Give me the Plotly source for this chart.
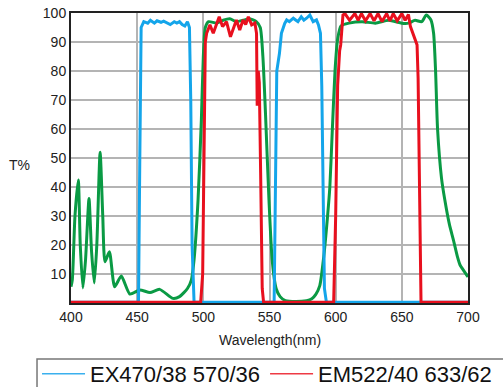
import plotly.graph_objects as go

# ---- data ----
ex_name = "EX470/38 570/36"
ex_wl = [400, 451, 452, 453, 455, 458, 460, 463, 465, 468, 470, 473, 475, 478, 480, 482, 484, 486, 488,
         489.5, 490.5, 491.5, 493, 553.5, 554.5, 555.5, 557.5, 559, 561.5, 563, 565, 568, 570, 571.5,
         574, 576, 578, 580.5, 583, 585.5, 587, 588.5, 589.5, 590.5, 591.5, 593, 700]
ex_t = [0.3, 0.3, 50, 95, 97, 96.5, 97.5, 96.5, 97.3, 96.8, 97.2, 96.3, 96, 97, 96.5, 97, 96, 95.5, 97,
        95, 70, 20, 0.3, 0.3, 40, 80, 86, 93, 96.4, 97.6, 97, 98.2, 97.5, 97,
        98.7, 97.5, 98.2, 99.3, 97, 97.6, 95.9, 93, 75, 35, 5, 0.3, 0.3]

em_name = "EM522/40 633/62"
em_wl = [400, 498, 499.5, 500.5, 501.5, 502.5, 505, 507.5, 510, 512, 514.5, 517.5, 520.5, 522.5, 525,
         527.5, 530, 532, 534, 536.5, 539, 540.2, 540.7, 541.5, 542.3, 543.3, 544.5, 545.5, 598.5, 600,
         601.5, 603, 603.8, 605.5, 607, 610.5, 614.5, 617, 619.5, 622.5, 626, 629, 632, 635, 638.5, 641,
         643.5, 646.5, 650, 652.5, 655, 656.5, 658.5, 660, 661.5, 662.3, 663.3, 664.5, 700]
em_t = [0.3, 0.3, 10, 60, 90, 93, 95.9, 93, 96.4, 98.7, 95.3, 97, 91.8, 94.1, 97.6,
        94.1, 97.6, 96, 98.7, 95.9, 96.5, 93, 68, 80, 76, 45, 5, 0.3, 0.3, 30,
        75, 87, 89, 99.3, 99.8, 97.5, 99.8, 97.5, 99.8, 97.3, 99.8, 97.3, 99.8, 97, 99.8, 97.3,
        99.8, 97.3, 99.8, 97.5, 99.5, 95.3, 93, 91.3, 89, 77.5, 40, 0.3, 0.3]

dm_wl = [400, 401, 403, 405.5, 407, 409, 411, 413.6, 415.5, 417.6, 419.5, 422, 424, 425.7, 429, 433,
         438, 444.5, 452, 459.7, 467, 477, 482, 488, 491, 493, 496, 498.5, 500, 501.5, 504, 510, 515,
         520, 525, 530, 535, 540, 543, 545, 547, 549.6, 552, 555, 558, 562, 570, 578, 582, 585, 588,
         591, 593.5, 595.6, 597.5, 599.5, 601.5, 604, 610, 620, 630, 640, 650, 655, 660, 665, 668.5,
         672, 674, 675.5, 677, 680, 682.5, 686, 689, 692, 694, 697, 700]
dm_t = [5.6, 8, 30, 42.4, 20, 5.2, 15, 36, 18, 6.9, 20, 52, 30, 14.2, 17.7, 5.6,
        9.3, 3.1, 4.5, 3.6, 4.7, 1.6, 2.2, 5, 8, 15, 35.5, 63, 85, 95, 97, 96.5, 97.5,
        98, 97, 97.5, 98, 97, 95, 85, 65, 35.5, 15, 5, 2.2, 0.8, 0.5, 0.8, 1.5, 3, 6,
        16, 28, 40, 60, 80, 91, 95.5, 96.5, 97, 96.5, 97.5, 96.5, 96.5, 97.5, 97, 99.3,
        97.6, 93, 80, 60, 43, 35.5, 27, 21.7, 16, 13.1, 11, 9]

x_ticks = [400, 450, 500, 550, 600, 650, 700]
y_ticks = [10, 20, 30, 40, 50, 60, 70, 80, 90, 100]

BLUE = "#14a5ea"
RED = "#e8101e"
GREEN = "#0a9a44"
FONT = "Liberation Sans, Arial, sans-serif"

fig = go.Figure()
fig.add_trace(go.Scatter(x=dm_wl, y=dm_t, mode="lines", name="DM",
                         line=dict(color=GREEN, width=3, shape="spline", smoothing=0.6),
                         showlegend=False))
fig.add_trace(go.Scatter(x=ex_wl, y=ex_t, mode="lines", name=ex_name,
                         line=dict(color=BLUE, width=3), showlegend=False))
fig.add_trace(go.Scatter(x=em_wl, y=em_t, mode="lines", name=em_name,
                         line=dict(color=RED, width=3), showlegend=False))
# legend entries (thin symbol lines like the reference)
fig.add_trace(go.Scatter(x=[None], y=[None], mode="lines", name=ex_name,
                         line=dict(color="#3ab0ee", width=1.5), legendrank=1))
fig.add_trace(go.Scatter(x=[None], y=[None], mode="lines", name=em_name,
                         line=dict(color="#ee3a44", width=1.5), legendrank=2))

axis_common = dict(showgrid=True, gridcolor="#b4b4b4", gridwidth=1.5,
                   showline=True, linecolor="#222222", linewidth=2, mirror=True,
                   ticks="", zeroline=False, automargin=False,
                   tickfont=dict(family=FONT, size=14, color="#222222"))

fig.update_xaxes(range=[400, 700], tickvals=x_ticks, ticktext=[str(v) for v in x_ticks], **axis_common)
fig.update_yaxes(range=[0, 100], tickvals=y_ticks, ticktext=[str(v) for v in y_ticks], **axis_common)

fig.add_annotation(text="T%", xref="paper", yref="paper", x=-0.13, y=0.475,
                   xanchor="center", yanchor="middle", showarrow=False,
                   font=dict(family=FONT, size=14, color="#222222"))
fig.add_annotation(text="Wavelength(nm)", xref="paper", yref="paper", x=0.5, y=-0.128,
                   xanchor="center", yanchor="middle", showarrow=False,
                   font=dict(family=FONT, size=14, color="#222222"))

# legend frame (extends past the right/bottom edge as in the reference)
fig.add_shape(type="rect", xref="paper", yref="paper", x0=-0.0856, x1=1.3, y0=-0.1931, y1=-0.45,
              line=dict(color="#777777", width=1.5), fillcolor="rgba(0,0,0,0)", layer="above")

fig.update_layout(
    width=503, height=387,
    margin=dict(l=71, r=35, t=13, b=84, autoexpand=False),
    paper_bgcolor="white", plot_bgcolor="white",
    font=dict(family=FONT, color="#222222"),
    legend=dict(orientation="h", x=-0.0856, y=-0.1724, xanchor="left", yanchor="top",
                borderwidth=0, bgcolor="rgba(0,0,0,0)",
                font=dict(family=FONT, size=22, color="#111111"),
                itemwidth=43, tracegroupgap=0),
)

fig.write_html("out.html", config={"displayModeBar": False},
               post_script="document.body.style.margin='0';document.body.style.overflow='hidden';")
